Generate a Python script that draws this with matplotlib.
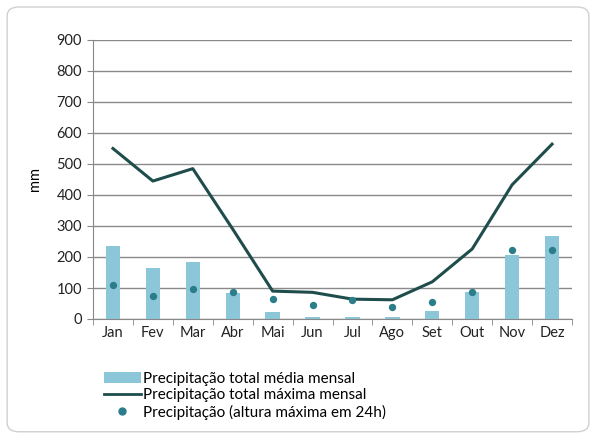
import matplotlib.pyplot as plt
from matplotlib.lines import Line2D
from matplotlib.patches import FancyBboxPatch, Patch

months = ["Jan", "Fev", "Mar", "Abr", "Mai", "Jun", "Jul", "Ago", "Set", "Out", "Nov", "Dez"]
media_mensal = [235, 163, 183, 85, 22, 5, 5, 7, 26, 87, 205, 268]
maxima_mensal = [550, 445, 485, 290, 90, 86, 64, 62, 120, 226, 433, 564]
maxima_24h = [111, 74, 98, 86, 66, 45, 61, 39, 56, 86, 221, 221]

plt.rcParams["font.family"] = ["Lato", "DejaVu Sans"]

fig = plt.figure(figsize=(5.96, 4.37), dpi=100)
frame = FancyBboxPatch((0.012, 0.012), 0.976, 0.972,
                       boxstyle="round,pad=0,rounding_size=0.02",
                       transform=fig.transFigure, facecolor="white",
                       edgecolor="#d0d0d0", linewidth=1.0, zorder=-10)
fig.patches.append(frame)

ax = fig.add_axes([93 / 596, 1 - 319 / 437, 479 / 596, 279 / 437])
ax.set_facecolor("none")
x = list(range(len(months)))

ax.bar(x, media_mensal, width=0.36, color="#8cc7d9", zorder=2)
ax.plot(x, maxima_mensal, color="#1e4d4c", linewidth=2.2, zorder=3)
ax.scatter(x, maxima_24h, s=28, color="#2b7d8a", zorder=4, linewidths=0)

ax.set_xlim(-0.5, 11.5)
ax.set_ylim(0, 900)
ax.set_yticks(range(0, 901, 100))
ax.set_xticks(x)
ax.set_xticklabels(months)
ax.set_xticks([i + 0.5 for i in range(-1, 12)], minor=True)
ax.tick_params(axis="x", which="major", length=0, pad=5, labelsize=10.5, colors="#222222")
ax.tick_params(axis="x", which="minor", length=4, color="#888888")
ax.tick_params(axis="y", length=4, color="#888888", labelsize=10.5, colors="#222222", pad=4)
ax.yaxis.grid(True, color="#8a8a8a", linewidth=1.0, zorder=0)
ax.set_axisbelow(True)
for side in ["top", "right"]:
    ax.spines[side].set_visible(False)
for side in ["left", "bottom"]:
    ax.spines[side].set_color("#888888")
ax.set_ylabel("mm", fontsize=10.5, labelpad=10)

handles = [
    Patch(facecolor="#8cc7d9", edgecolor="none"),
    Line2D([0], [0], color="#1e4d4c", linewidth=2.0),
    Line2D([0], [0], marker="o", linestyle="none", color="#2b7d8a", markersize=5),
]
labels = [
    "Precipitação total média mensal",
    "Precipitação total máxima mensal",
    "Precipitação (altura máxima em 24h)",
]
fig.legend(handles, labels, loc="upper left", bbox_to_anchor=(98 / 596, 1 - 366 / 437),
           frameon=False, fontsize=11, handlelength=2.4, handletextpad=0.15,
           labelspacing=0.15, borderaxespad=0)

fig.savefig("out.png", dpi=100)
